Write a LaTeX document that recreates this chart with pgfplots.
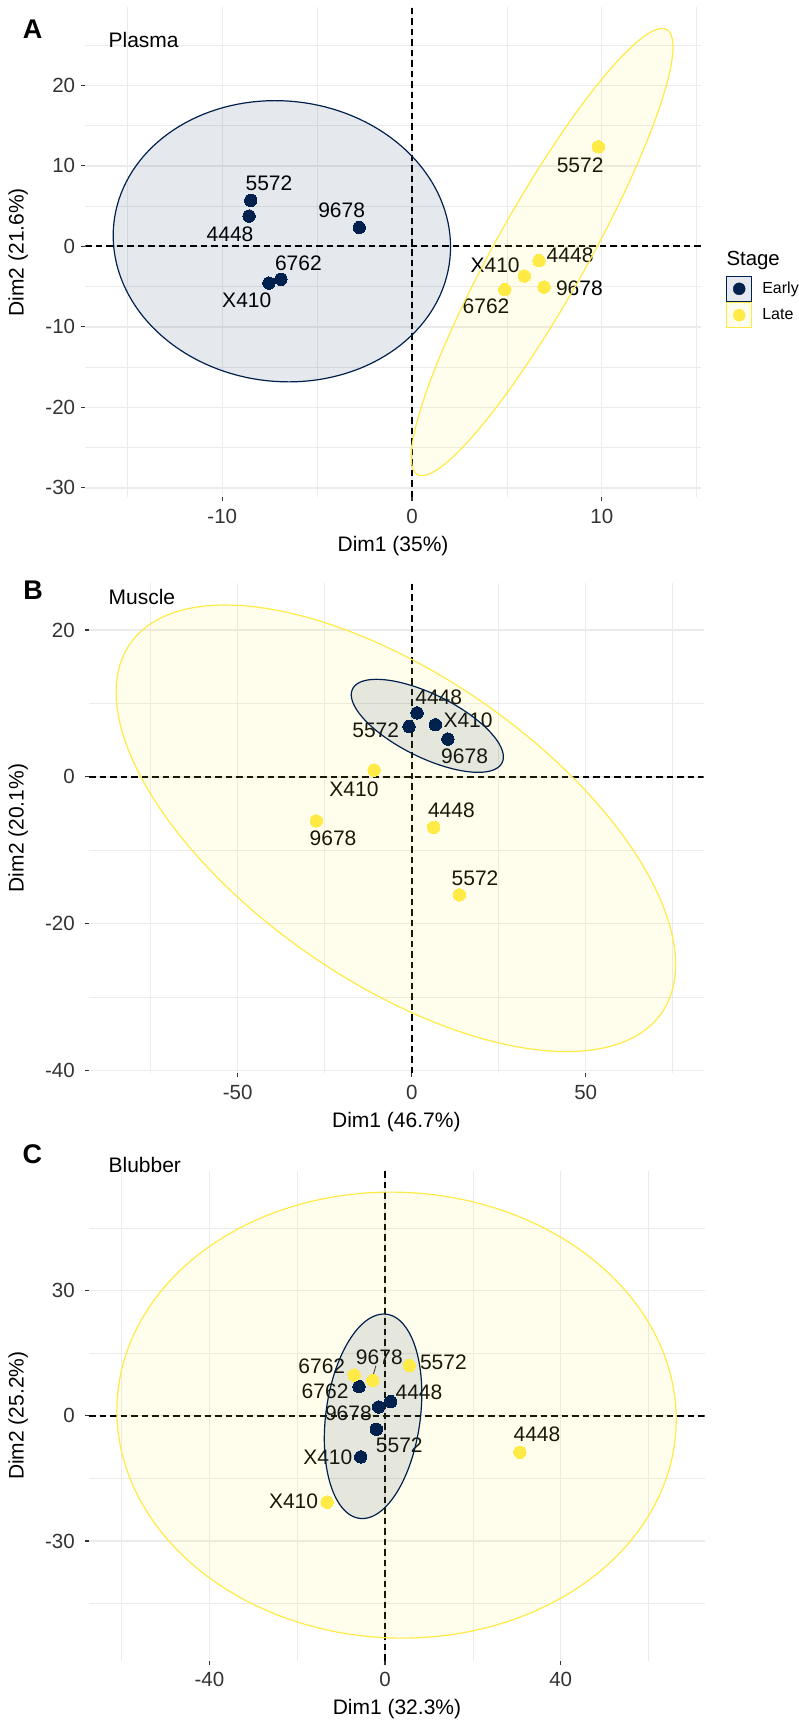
\documentclass[border=0pt]{standalone}
\usepackage{fontspec}
\setmainfont{Liberation Sans}
\usepackage{pgfplots}
\pgfplotsset{compat=1.18}
\definecolor{navy}{HTML}{00204D}
\definecolor{yel}{HTML}{FFEA46}
\definecolor{gridc}{HTML}{EBEBEB}
\definecolor{tickc}{HTML}{333333}
\newcommand\fs[1]{\fontsize{#1}{#1}\selectfont}
\pgfplotsset{
  pca/.style={
    scale only axis, anchor=south west,
    axis line style={draw=none},
    xtick pos=left, ytick pos=left,
    tick align=outside,
    major tick length=4pt, minor tick length=0pt,
    tick style={color=tickc, line width=1.1pt},
    grid=both,
    major grid style={color=gridc, line width=1.3pt},
    minor grid style={color=gridc, line width=0.65pt},
    tick label style={font=\fs{20.5}, text=tickc},
    xticklabel style={inner sep=0pt, yshift=-7.5pt},
    label style={font=\fs{21}, text=black, inner sep=0pt},
  },
  pts/.style={only marks, color=#1, mark=*, mark size=6.2pt, mark options={draw=#1, fill=#1, line width=0pt}},
  ell/.style={draw=#1, line width=1.2pt, fill=#1, fill opacity=0.1, domain=0:360, samples=145, variable=\t},
}
\tikzset{
  lab/.style={font=\fs{21}, inner sep=0pt, text=black},
  zero/.style={black, line width=1.9pt, dash pattern=on 6.5pt off 4pt},
}
\begin{document}
\begin{tikzpicture}
\path[use as bounding box] (0,0) rectangle (799pt,-1724pt);

% ---------------- Panel A : Plasma ----------------
\begin{axis}[pca, at={(85.3pt,-497.3pt)}, width=615.5pt, height=490.2pt,
  xmin=-17.22, xmax=15.22, ymin=-31.17, ymax=29.73,
  xtick={-10,0,10}, xticklabels={-10,0,10}, minor xtick={-15,-5,5,15},
  ytick={-30,-20,-10,0,10,20}, yticklabels={-30,-20,-10,0,10,20},
  minor ytick={-25,-15,-5,5,15,25},
  yticklabel style={inner sep=0pt, xshift=-6pt},
  xlabel={Dim1 (35\%)}, ylabel={Dim2 (21.6\%)},
  xlabel style={at={(axis description cs:0.5,-0.0989)}, anchor=center},
  ylabel style={at={(axis description cs:-0.1089,0.5)}, anchor=center},
  legend style={at={(1.0411,0.4520)}, anchor=north west, draw=none, fill=none,
    inner sep=0pt, outer sep=0pt, row sep=0.2pt, column sep=10pt,
    font=\fs{16}, nodes={inner sep=0pt}, cells={anchor=west}},
  legend cell align=left]
\addlegendimage{legend image code/.code={\draw[navy, line width=1.2pt, fill=navy!10] (0pt,-12.5pt) rectangle (25pt,12.5pt); \fill[navy] (12.5pt,0pt) circle (6pt);}}
\addlegendentry{Early}
\addlegendimage{legend image code/.code={\draw[yel, line width=1.2pt, fill=yel!10] (0pt,-12.5pt) rectangle (25pt,12.5pt); \fill[yel] (12.5pt,0pt) circle (6pt);}}
\addlegendentry{Late}
\draw[zero] (axis cs:0,-31.17) -- (axis cs:0,29.73);
\draw[zero] (axis cs:-17.22,0) -- (axis cs:15.22,0);
\addplot[pts=navy] coordinates {(-8.50,5.72) (-8.59,3.77) (-2.78,2.35) (-6.91,-4.08) (-7.54,-4.56)};
\addplot[pts=yel] coordinates {(9.82,12.37) (6.69,-1.77) (5.92,-3.68) (6.96,-5.05) (4.89,-5.36)};
\node[lab] at (axis cs:-7.54,7.89) {5572};
\node[lab] at (axis cs:-9.59,1.56) {4448};
\node[lab] at (axis cs:-3.71,4.43) {9678};
\node[lab] at (axis cs:-5.99,-2.04) {6762};
\node[lab] at (axis cs:-8.71,-6.75) {X410};
\node[lab] at (axis cs:8.86,10.07) {5572};
\node[lab] at (axis cs:8.33,-1.16) {4448};
\node[lab] at (axis cs:4.38,-2.30) {X410};
\node[lab] at (axis cs:8.82,-5.23) {9678};
\node[lab] at (axis cs:3.90,-7.41) {6762};
\addplot[ell=navy] ({-6.86+8.89*cos(\t)},{0.64+17.47*(-0.04*cos(\t)+0.9992*sin(\t))});
\addplot[ell=yel] ({6.856+6.9*cos(\t)},{-0.70+27.78*(0.917*cos(\t)+0.3989*sin(\t))});
\end{axis}

% ---------------- Panel B : Muscle ----------------
\begin{axis}[pca, at={(89.2pt,-1073.3pt)}, width=614.3pt, height=490.6pt,
  xmin=-92.67, xmax=83.85, ymin=-40.35, ymax=26.44,
  xtick={-50,0,50}, xticklabels={-50,0,50}, minor xtick={-75,-25,25,75},
  ytick={-40,-20,0,20}, yticklabels={-40,-20,0,20}, minor ytick={-30,-10,10},
  yticklabel style={inner sep=0pt, xshift=-10.2pt},
  xlabel={Dim1 (46.7\%)}, ylabel={Dim2 (20.1\%)},
  xlabel style={at={(axis description cs:0.5,-0.0989)}, anchor=center},
  ylabel style={at={(axis description cs:-0.1154,0.5)}, anchor=center}]
\draw[zero] (axis cs:0,-40.35) -- (axis cs:0,26.44);
\draw[zero] (axis cs:-92.67,0) -- (axis cs:83.85,0);
\addplot[pts=navy] coordinates {(1.53,8.71) (-0.77,6.86) (6.8,7.1) (10.4,5.15)};
\addplot[pts=yel] coordinates {(-10.8,0.93) (-27.4,-5.99) (6.32,-6.86) (13.7,-16.06)};
\node[lab] at (axis cs:7.76,10.85) {4448};
\node[lab] at (axis cs:16.2,7.74) {X410};
\node[lab] at (axis cs:15.2,2.82) {9678};
\node[lab] at (axis cs:-10.34,6.32) {5572};
\node[lab] at (axis cs:-16.6,-1.71) {X410};
\node[lab] at (axis cs:-22.6,-8.37) {9678};
\node[lab] at (axis cs:11.4,-4.57) {4448};
\node[lab] at (axis cs:18.2,-13.77) {5572};
\addplot[ell=yel] ({-4.545+80.4*cos(\t)},{-6.995+30.4*(-0.61*cos(\t)+0.7924*sin(\t))});
\addplot[ell=navy] ({4.49+21.85*cos(\t)},{6.955+6.33*(-0.668*cos(\t)+0.7442*sin(\t))});
\end{axis}

% ---------------- Panel C : Blubber ----------------
\begin{axis}[pca, at={(89.2pt,-1660.7pt)}, width=615.5pt, height=490pt,
  xmin=-67.36, xmax=72.8, ymin=-58.69, ymax=58.73,
  xtick={-40,0,40}, xticklabels={-40,0,40}, minor xtick={-60,-20,20,60},
  ytick={-30,0,30}, yticklabels={-30,0,30}, minor ytick={-45,-15,15,45},
  yticklabel style={inner sep=0pt, xshift=-10.2pt},
  xlabel={Dim1 (32.3\%)}, ylabel={Dim2 (25.2\%)},
  xlabel style={at={(axis description cs:0.5,-0.0989)}, anchor=center},
  ylabel style={at={(axis description cs:-0.1152,0.5)}, anchor=center}]
\draw[zero] (axis cs:0,-58.69) -- (axis cs:0,58.73);
\draw[zero] (axis cs:-67.36,0) -- (axis cs:72.8,0);
\addplot[pts=navy] coordinates {(-5.91,6.99) (1.29,3.40) (-1.44,2.12) (-1.97,-3.22) (-5.53,-9.85)};
\addplot[pts=yel] coordinates {(-7.05,9.75) (-2.80,8.47) (5.53,12.05) (-13.18,-20.7) (30.72,-8.74)};
\node[lab] at (axis cs:-14.39,11.78) {6762};
\node[lab] at (axis cs:-1.29,14.08) {9678};
\node[lab] at (axis cs:13.3,12.88) {5572};
\node[lab] at (axis cs:-13.64,5.80) {6762};
\node[lab] at (axis cs:7.73,5.71) {4448};
\node[lab] at (axis cs:-8.33,0.55) {9678};
\node[lab] at (axis cs:3.26,-7.18) {5572};
\node[lab] at (axis cs:-13.03,-9.85) {X410};
\node[lab] at (axis cs:-20.83,-20.43) {X410};
\node[lab] at (axis cs:34.6,-4.51) {4448};
\draw[black!85, line width=0.8pt] (axis cs:-2.65,9.94) -- (axis cs:-2.05,12.05);
\addplot[ell=yel] ({2.63+63.7*cos(\t)},{0.16+53.45*(-0.02*cos(\t)+0.9998*sin(\t))});
\addplot[ell=navy] ({-2.72+11.1*cos(\t)},{-0.12+24.5*(0.22*cos(\t)+0.9755*sin(\t))});
\end{axis}

% legend title, panel letters and titles
\node[font=\fs{20.4}, inner sep=0pt, anchor=base west] at (726.3pt,-265pt) {Stage};
\node[font=\fs{27}\bfseries, inner sep=0pt] at (32.5pt,-29.1pt) {A};
\node[font=\fs{27}\bfseries, inner sep=0pt] at (33.1pt,-590pt) {B};
\node[font=\fs{27}\bfseries, inner sep=0pt] at (32.3pt,-1154.2pt) {C};
\node[font=\fs{21}, inner sep=0pt, anchor=base west] at (108.4pt,-47.1pt) {Plasma};
\node[font=\fs{21}, inner sep=0pt, anchor=base west] at (108.4pt,-604pt) {Muscle};
\node[font=\fs{21}, inner sep=0pt, anchor=base west] at (108.4pt,-1172.7pt) {Blubber};
\end{tikzpicture}
\end{document}
